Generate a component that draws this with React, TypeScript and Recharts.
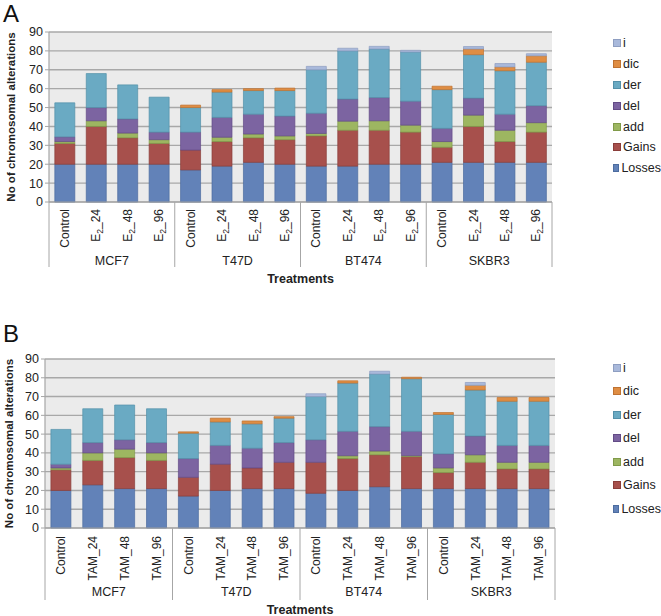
import React from "react";
import { BarChart, Bar, XAxis, YAxis, CartesianGrid, Legend } from "recharts";

const groups = ["MCF7", "T47D", "BT474", "SKBR3"];
const treatmentsA = ["Control", "E2_24", "E2_48", "E2_96"];
const treatmentsB = ["Control", "TAM_24", "TAM_48", "TAM_96"];
const yTicks = [0, 10, 20, 30, 40, 50, 60, 70, 80, 90];

const seriesNames = ["Losses", "Gains", "add", "del", "der", "dic", "i"];
const seriesColors = ["#6282B8", "#A7504C", "#9DB661", "#7C64A1", "#6AAAC3", "#DF8D43", "#A9B9DB"];
const seriesStrokes = ["#4C6C9F", "#8A3D3A", "#809A49", "#634B86", "#5390A9", "#BF7231", "#8E9EC1"];

// Panel A (E2 treatments)
const lossesA = [20, 20, 20, 20, 17, 19, 21, 20, 19, 19, 20, 20, 21, 21, 21, 21];
const gainsA = [11, 20, 14, 11, 10.5, 13, 13, 13, 16, 19, 18, 17, 8, 19, 11, 16];
const addA = [1, 3, 2.5, 2, 0, 2.3, 2, 2, 1.3, 4.8, 5, 3.7, 3, 6, 6, 5];
const delA = [2.5, 7, 7.5, 4, 9.5, 10.5, 10.5, 10.5, 10.7, 11.7, 12.3, 12.7, 7, 9, 8.5, 9];
const derA = [18, 18, 18, 18.5, 13, 13.4, 12.5, 13.5, 23, 25.5, 25.7, 26, 20.5, 23, 23, 23];
const dicA = [0, 0, 0, 0, 1.3, 1.3, 1, 1.3, 0, 0, 0, 0, 1.8, 3, 2, 3.4];
const iA = [0, 0, 0, 0, 0, 0, 0, 0, 1.8, 1.4, 1.4, 0.9, 0, 1.3, 1.8, 1.1];

// Panel B (TAM treatments)
const lossesB = [20, 23, 21, 21, 17, 20, 21, 21, 18.5, 20, 22, 21, 21, 21, 21, 21];
const gainsB = [11, 13, 16.5, 15, 10, 14, 11, 14, 16.5, 17, 17, 17, 8.5, 14, 10.5, 10.5];
const addB = [1, 4, 4.5, 4, 0, 0, 0, 0, 0, 1.5, 2, 0.5, 2.5, 4, 3.5, 3.5];
const delB = [2, 5.5, 5, 5.5, 10, 10, 10.5, 10.5, 12, 13, 13, 13, 7.5, 10, 9, 9];
const derB = [18.5, 18, 18.5, 18, 13.5, 12.5, 13, 13, 23, 25.7, 28, 28, 21, 24.5, 23.5, 23.5];
const dicB = [0, 0, 0, 0, 0.7, 2, 1.5, 0.8, 0, 1.2, 0, 0.8, 1, 2.5, 2, 2];
const iB = [0, 0, 0, 0, 0, 0, 0, 0, 1.5, 0, 1.5, 0, 0, 1.5, 0, 0];

const FONT = "'Liberation Sans', Arial, sans-serif";

function buildRows(treatments: string[], cols: number[][]) {
  const rows: any[] = [];
  groups.forEach((g, gi) => {
    treatments.forEach((t, ti) => {
      const idx = gi * treatments.length + ti;
      const row: any = { key: g + "|" + t, label: t, group: g };
      seriesNames.forEach((s, si) => {
        row[s] = cols[si][idx];
      });
      rows.push(row);
    });
  });
  return rows;
}

const rowsA = buildRows(treatmentsA, [lossesA, gainsA, addA, delA, derA, dicA, iA]);
const rowsB = buildRows(treatmentsB, [lossesB, gainsB, addB, delB, derB, dicB, iB]);

function TickText({ label }: { label: string }) {
  if (label.startsWith("E2")) {
    return (
      <>
        E
        <tspan dy={3} fontSize={8.5}>2</tspan>
        <tspan dy={-3}>{label.slice(2)}</tspan>
      </>
    );
  }
  return <>{label}</>;
}

function makeTick(rows: any[], plotW: number, cfg: { labelDy: number; groupDy: number; sepLen: number }) {
  return (props: any) => {
    const { x, y, index } = props;
    const row = rows[index];
    if (!row) return null;
    const n = rows.length;
    const step = (props.width && props.width > 0 ? props.width : plotW) / n;
    const pos = index % 4;
    return (
      <g>
        <text
          x={0}
          y={0}
          dy="0.35em"
          textAnchor="end"
          fontSize={12}
          fontFamily={FONT}
          fill="#222"
          transform={`translate(${x},${y + cfg.labelDy}) rotate(-90)`}
        >
          <TickText label={row.label} />
        </text>
        {pos === 0 && (
          <line x1={x - step / 2} x2={x - step / 2} y1={y} y2={y + cfg.sepLen} stroke="#a6a6a6" strokeWidth={1} />
        )}
        {index === n - 1 && (
          <line x1={x + step / 2} x2={x + step / 2} y1={y} y2={y + cfg.sepLen} stroke="#a6a6a6" strokeWidth={1} />
        )}
        {pos === 1 && (
          <text
            x={x + step / 2}
            y={y + cfg.groupDy}
            dy="0.35em"
            textAnchor="middle"
            fontSize={12.5}
            fontFamily={FONT}
            fill="#222"
          >
            {row.group}
          </text>
        )}
      </g>
    );
  };
}

function makeLegend(rowH: number) {
  return (props: any) => {
    const payload = [...(props.payload || [])].sort(
      (a: any, b: any) => seriesNames.indexOf(b.value) - seriesNames.indexOf(a.value)
    );
    return (
      <div style={{ fontFamily: FONT, fontSize: 12.5, color: "#222" }}>
        {payload.map((p: any) => {
          const si = seriesNames.indexOf(p.value);
          return (
            <div key={p.value} style={{ display: "flex", alignItems: "center", height: rowH, whiteSpace: "nowrap" }}>
              <span
                style={{
                  display: "inline-block",
                  width: 6,
                  height: 6,
                  background: seriesColors[si] || p.color,
                  border: `1px solid ${seriesStrokes[si] || p.color}`,
                  marginRight: 2,
                }}
              />
              <span>{p.value}</span>
            </div>
          );
        })}
      </div>
    );
  };
}

type PanelCfg = {
  rows: any[];
  letter: string;
  height: number;
  top: number;
  left: number;
  right: number;
  xAxisH: number;
  labelDy: number;
  groupDy: number;
  sepLen: number;
  treatDy: number;
  titleX: number;
  legendTop: number;
  legendRowH: number;
  letterTop: number;
};

function Panel(cfg: PanelCfg) {
  const W = 661;
  const plotW = W - cfg.left - cfg.right;
  const plotBottom = cfg.height - cfg.xAxisH;
  const plotMidY = (cfg.top + plotBottom) / 2;
  return (
    <div style={{ position: "relative", width: W, height: cfg.height }}>
      <div
        style={{
          position: "absolute",
          left: 3,
          top: cfg.letterTop,
          fontFamily: FONT,
          fontSize: 24,
          color: "#111",
          lineHeight: "28px",
        }}
      >
        {cfg.letter}
      </div>
      <BarChart
        width={W}
        height={cfg.height}
        data={cfg.rows}
        margin={{ top: cfg.top, right: cfg.right, left: 0, bottom: 0 }}
        barCategoryGap="18.5%"
      >
        <CartesianGrid vertical={false} fill="#ebebeb" stroke="#a8a8a8" strokeWidth={1.4} />
        <XAxis
          dataKey="key"
          interval={0}
          height={cfg.xAxisH}
          tickLine={false}
          tickSize={0}
          tickMargin={0}
          axisLine={{ stroke: "#a6a6a6", strokeWidth: 1.2 }}
          tick={makeTick(cfg.rows, plotW, { labelDy: cfg.labelDy, groupDy: cfg.groupDy, sepLen: cfg.sepLen })}
          label={(lp: any) => {
            const vb = lp.viewBox || {};
            return (
              <text
                x={(vb.x ?? cfg.left) + (vb.width ?? plotW) / 2}
                y={plotBottom + cfg.treatDy}
                dy="0.35em"
                textAnchor="middle"
                fontSize={12.5}
                fontWeight="bold"
                fontFamily={FONT}
                fill="#222"
              >
                Treatments
              </text>
            );
          }}
        />
        <YAxis
          width={cfg.left}
          domain={[0, 90]}
          ticks={yTicks}
          interval={0}
          tick={{ fontSize: 12.5, fill: "#222", fontFamily: FONT }}
          tickLine={{ stroke: "#a6a6a6" }}
          tickSize={4}
          axisLine={{ stroke: "#a6a6a6", strokeWidth: 1.2 }}
          label={() => (
            <text
              x={0}
              y={0}
              dy="0.35em"
              textAnchor="middle"
              fontSize={11.5}
              fontWeight="bold"
              fontFamily={FONT}
              fill="#222"
              transform={`translate(${cfg.titleX},${plotMidY}) rotate(-90)`}
            >
              No of chromosomal alterations
            </text>
          )}
        />
        <Legend
          layout="vertical"
          verticalAlign="top"
          align="right"
          wrapperStyle={{ position: "absolute", left: 613, top: cfg.legendTop, width: 48, margin: 0, padding: 0 }}
          content={makeLegend(cfg.legendRowH)}
        />
        {seriesNames.map((s, si) => (
          <Bar
            key={s}
            dataKey={s}
            stackId="a"
            fill={seriesColors[si]}
            stroke={seriesStrokes[si]}
            strokeWidth={0.7}
            isAnimationActive={false}
          />
        ))}
      </BarChart>
    </div>
  );
}

export default function App() {
  return (
    <div style={{ position: "absolute", left: 0, top: 0, width: 661, height: 616, background: "#fff", overflow: "hidden" }}>
      <div style={{ position: "absolute", left: 0, top: 0 }}>
        <Panel
          rows={rowsA}
          letter="A"
          letterTop={0}
          height={300}
          top={32}
          left={49}
          right={61}
          xAxisH={98}
          labelDy={7}
          groupDy={59}
          sepLen={65}
          treatDy={77}
          titleX={11}
          legendTop={33}
          legendRowH={20.8}
        />
      </div>
      <div style={{ position: "absolute", left: 0, top: 308 }}>
        <Panel
          rows={rowsB}
          letter="B"
          letterTop={12}
          height={308}
          top={51}
          left={45}
          right={58}
          xAxisH={88}
          labelDy={8}
          groupDy={64}
          sepLen={72}
          treatDy={82}
          titleX={9}
          legendTop={48}
          legendRowH={23.5}
        />
      </div>
    </div>
  );
}
